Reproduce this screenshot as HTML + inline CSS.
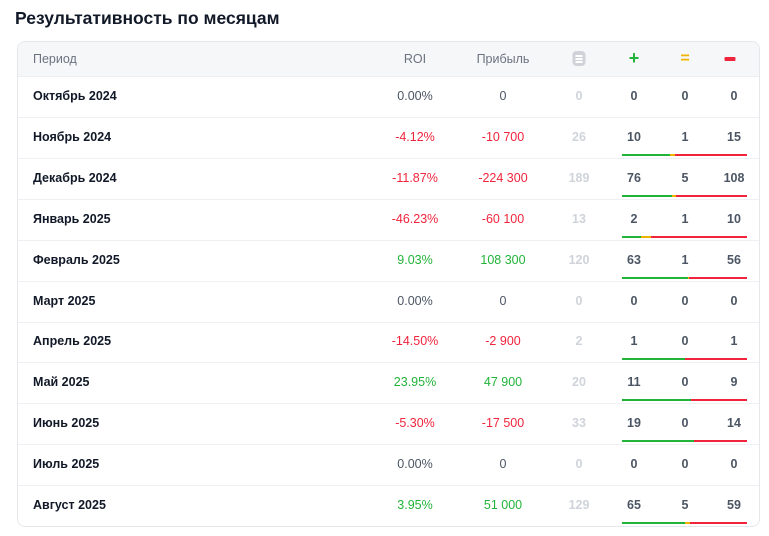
<!DOCTYPE html>
<html><head><meta charset="utf-8">
<style>
body{margin:0;width:769px;height:536px;background:#fff;font-family:"Liberation Sans","DejaVu Sans",sans-serif;overflow:hidden;position:relative}
h1{position:absolute;left:15px;top:8px;margin:0;font-size:17.5px;font-weight:bold;color:#111827}
#card{position:absolute;left:17px;top:41px;width:741px;height:484px;border:1px solid #e5e7eb;border-radius:8px;overflow:hidden}
.hdr{position:absolute;left:0;top:0;width:741px;height:34px;background:#f6f7f9;border-bottom:1px solid #eceef1}
.c{position:absolute;transform:translateX(-50%);white-space:nowrap;font-size:12.5px}
.row{position:absolute;left:0;width:741px;height:41px;border-bottom:1px solid #eef0f3}
.per{position:absolute;left:15px;top:13px;font-size:12.5px;font-weight:bold;color:#111827}
.seg{position:absolute;height:2px}
</style></head><body>
<h1>Результативность по месяцам</h1>
<div id="card">
 <div class="hdr">
  <span style="position:absolute;left:15px;top:10px;font-size:12.5px;color:#6b7280">Период</span>
  <span class="c" style="left:397px;top:10px;color:#6b7280">ROI</span>
  <span class="c" style="left:485px;top:10px;color:#6b7280">Прибыль</span>
  <span class="c" style="left:561px;top:9px;width:13px;height:15px;background:#cfd2d8;border-radius:4px"><span style="position:absolute;left:3px;top:4px;width:7px;height:1.5px;background:#fff;box-shadow:0 3px #fff,0 6px #fff"></span></span>
  <span class="c" style="left:616px;top:6px;color:#22b33a;font-weight:bold;font-size:18px">+</span>
  <span class="c" style="left:667px;top:8px;color:#f0b400;font-weight:bold;font-size:16px">=</span>
  <span class="c" style="left:712px;top:15px;width:11px;height:4px;background:#f0243c;border-radius:1px"></span>
 </div>
</div>
<script>
const periods=["Октябрь 2024","Ноябрь 2024","Декабрь 2024","Январь 2025","Февраль 2025","Март 2025","Апрель 2025","Май 2025","Июнь 2025","Июль 2025","Август 2025"];
const roi=[0,-4.12,-11.87,-46.23,9.03,0,-14.5,23.95,-5.3,0,3.95];
const profit=[0,-10700,-224300,-60100,108300,0,-2900,47900,-17500,0,51000];
const wins=[0,10,76,2,63,0,1,11,19,0,65];
const draws=[0,1,5,1,1,0,0,0,0,0,5];
const losses=[0,15,108,10,56,0,1,9,14,0,59];
const card=document.getElementById('card');
function fmt(n){return (n<0?'-':'')+Math.abs(n).toString().replace(/\B(?=(\d{3})+(?!\d))/g,' ');}
function col(v){return v>0?'#22b33a':v<0?'#f0243c':'#4b5563';}
const rowH=40.9, top0=34, barL=604, barW=125;
periods.forEach((p,i)=>{
 const r=document.createElement('div');r.className='row';r.style.top=(top0+i*rowH)+'px';
 
 
 const total=wins[i]+draws[i]+losses[i];
 r.innerHTML=`<span class="per">${p}</span>
 <span class="c" style="left:397px;top:13px;color:${col(roi[i])}">${roi[i].toFixed(2)}%</span>
 <span class="c" style="left:485px;top:13px;color:${col(profit[i])}">${fmt(profit[i])}</span>
 <span class="c" style="left:561px;top:13px;color:#cfd3da;font-weight:bold">${total}</span>
 <span class="c" style="left:616px;top:13px;color:#4b5563;font-weight:bold">${wins[i]}</span>
 <span class="c" style="left:667px;top:13px;color:#4b5563;font-weight:bold">${draws[i]}</span>
 <span class="c" style="left:716px;top:13px;color:#4b5563;font-weight:bold">${losses[i]}</span>`;
 if(total>0){
  let x=barL;
  [[wins[i],'#22b33a'],[draws[i],'#f0b400'],[losses[i],'#f0243c']].forEach(([v,c])=>{
   const w=v/total*barW;const s=document.createElement('div');s.className='seg';
   
   
   s.style.cssText=`left:${x}px;width:${w}px;top:37px;background:${c}`;r.appendChild(s);x+=w;
  });
 }
 card.appendChild(r);
});
</script>
</body></html>
